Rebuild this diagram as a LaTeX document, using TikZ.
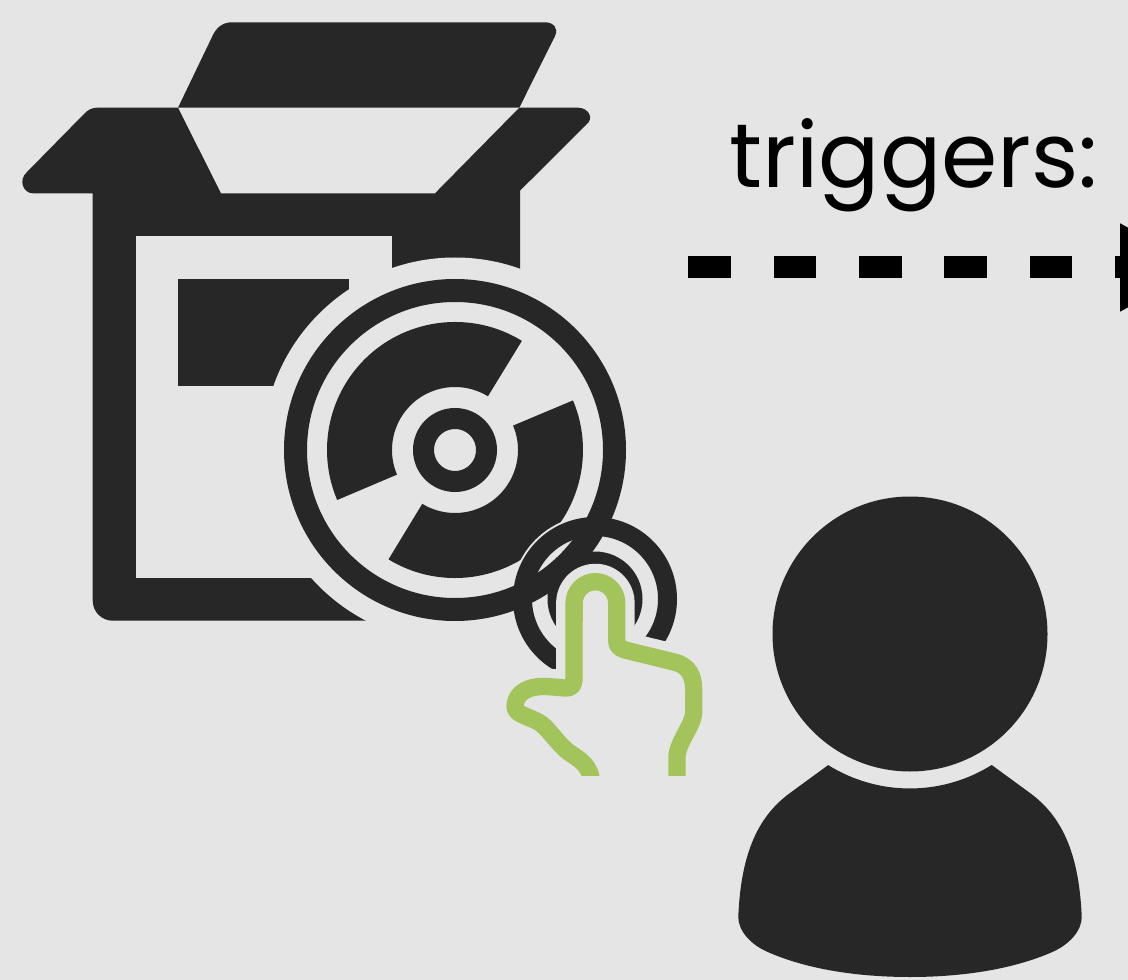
\documentclass[tikz,border=0pt]{standalone}
\usepackage{fontspec}
\usepackage{xcolor}
\usepackage{tikz}
\usetikzlibrary{arrows.meta}
\newfontfamily\handfont{Poppins}
\definecolor{iconDark}{HTML}{272727}
\definecolor{paperGrey}{HTML}{E5E5E5}
\definecolor{touchGreen}{HTML}{A3C45A}
\newcommand{\handpath}{(677,790) -- (677,755) .. controls (680,738) and (693.5,725) .. (693.7,712) -- (693.7,690)
  .. controls (693.7,675) and (688,666) .. (676,662.5) -- (625,650) .. controls (619,648) and (616.7,646) .. (616.7,640)
  -- (616.7,603) arc[start angle=0,end angle=-180,radius=21.3] -- (574,680) .. controls (574,686) and (570,688.5) .. (565,688)
  .. controls (553,687) and (545,686) .. (538,686.7) .. controls (525,688) and (515,695) .. (515,706.7)
  .. controls (515,714) and (527,716) .. (538,721.7) .. controls (548,727) and (558,745) .. (570,753)
  .. controls (580,760) and (591,765) .. (592,785)}
\begin{document}
\begin{tikzpicture}[x=0.75pt,y=-0.75pt,
  icon/.style={fill=iconDark},
  gap/.style={fill=paperGrey},
  handline/.style={line join=round,line cap=butt},
  dashline/.style={line width=16.5pt,dash pattern=on 32pt off 32pt,
    -{Triangle[length=61.5pt,width=61.5pt]}}]
\useasboundingbox (0,0) rectangle (1128,980);
\clip (0,0) rectangle (1128,980);
\fill[gap] (0,0) rectangle (1128,980);
% box
\fill[icon] (178,107.7) -- (212,37) .. controls (216,28) and (222,22.3) .. (232,22.3) -- (545,22.3)
  .. controls (553,22.3) and (559,28) .. (555,36) -- (519.3,107.7) -- cycle;
\fill[icon] (178,107.7) -- (221,193.3) -- (435,193.3) -- (519.3,107.7) -- (578,107.7)
  .. controls (588,107.7) and (595,118) .. (586,125) -- (520,190.7) -- (520,300) -- (400,300) -- (400,620.7)
  [rounded corners=15pt] -- (92.7,620.7) [sharp corners] -- (92.7,193.3) -- (33,193.3)
  .. controls (23,193.3) and (18,180) .. (27,172) -- (85,113) .. controls (88,110) and (92,107.7) .. (97,107.7) -- cycle;
\fill[gap] (135.7,236) rectangle (392,578.3);
\fill[icon] (178,279) rectangle (349,386);
% disc
\begin{scope}[shift={(455,450)}]
  \fill[gap] (0,0) circle[radius=192.5];
  \foreach \a/\b in {58.5/203,238.7/382.8}{
    \fill[icon] (-\a:128) arc[start angle=-\a,end angle=-\b,radius=128] -- (-\b:63)
      arc[start angle=-\b,end angle=-\a,radius=63] -- cycle;
  }
\end{scope}
\fill[gap] (595,599) circle[radius=84];
\begin{scope}[shift={(455,450)}]
  \draw[iconDark,line width=17.25pt] (0,0) circle[radius=159.5];
  \draw[iconDark,line width=15.75pt] (0,0) circle[radius=31.5];
\end{scope}
% touch rings and hand
\draw[iconDark,line width=14.25pt] (595,599) circle[radius=72.5];
\fill[icon] (595,599) circle[radius=47.5];
\begin{scope}
  \clip (0,0) rectangle (1128,775);
  \fill[gap] \handpath -- cycle;
  \draw[paperGrey,handline,line width=27pt] \handpath;
  \draw[touchGreen,handline,line width=13pt] \handpath;
\end{scope}
% person
\fill[icon] (910,634) circle[radius=137.5];
\fill[icon] (828.3,765) -- (790,793) .. controls (760,815) and (741,850) .. (738.3,916.7)
  .. controls (738,930) and (750,945) .. (770,953) .. controls (810,970) and (860,977) .. (910,977)
  .. controls (960,977) and (1010,970) .. (1050,953) .. controls (1070,945) and (1082,930) .. (1081.7,916.7)
  .. controls (1079,850) and (1060,815) .. (1030,793) -- (991.7,765)
  arc[start angle=58,end angle=122,radius=154.4] -- cycle;
% label and arrow
\node[anchor=base,inner sep=0pt,font=\handfont\fontsize{68}{68}\selectfont] (triggersLabel) at (914,188) {triggers:};
\coordinate (dashStart) at (688.3,267.5);
\coordinate (dashEnd) at (1202,267.5);
\draw[dashline] (dashStart) -- (dashEnd);
\end{tikzpicture}
\end{document}
